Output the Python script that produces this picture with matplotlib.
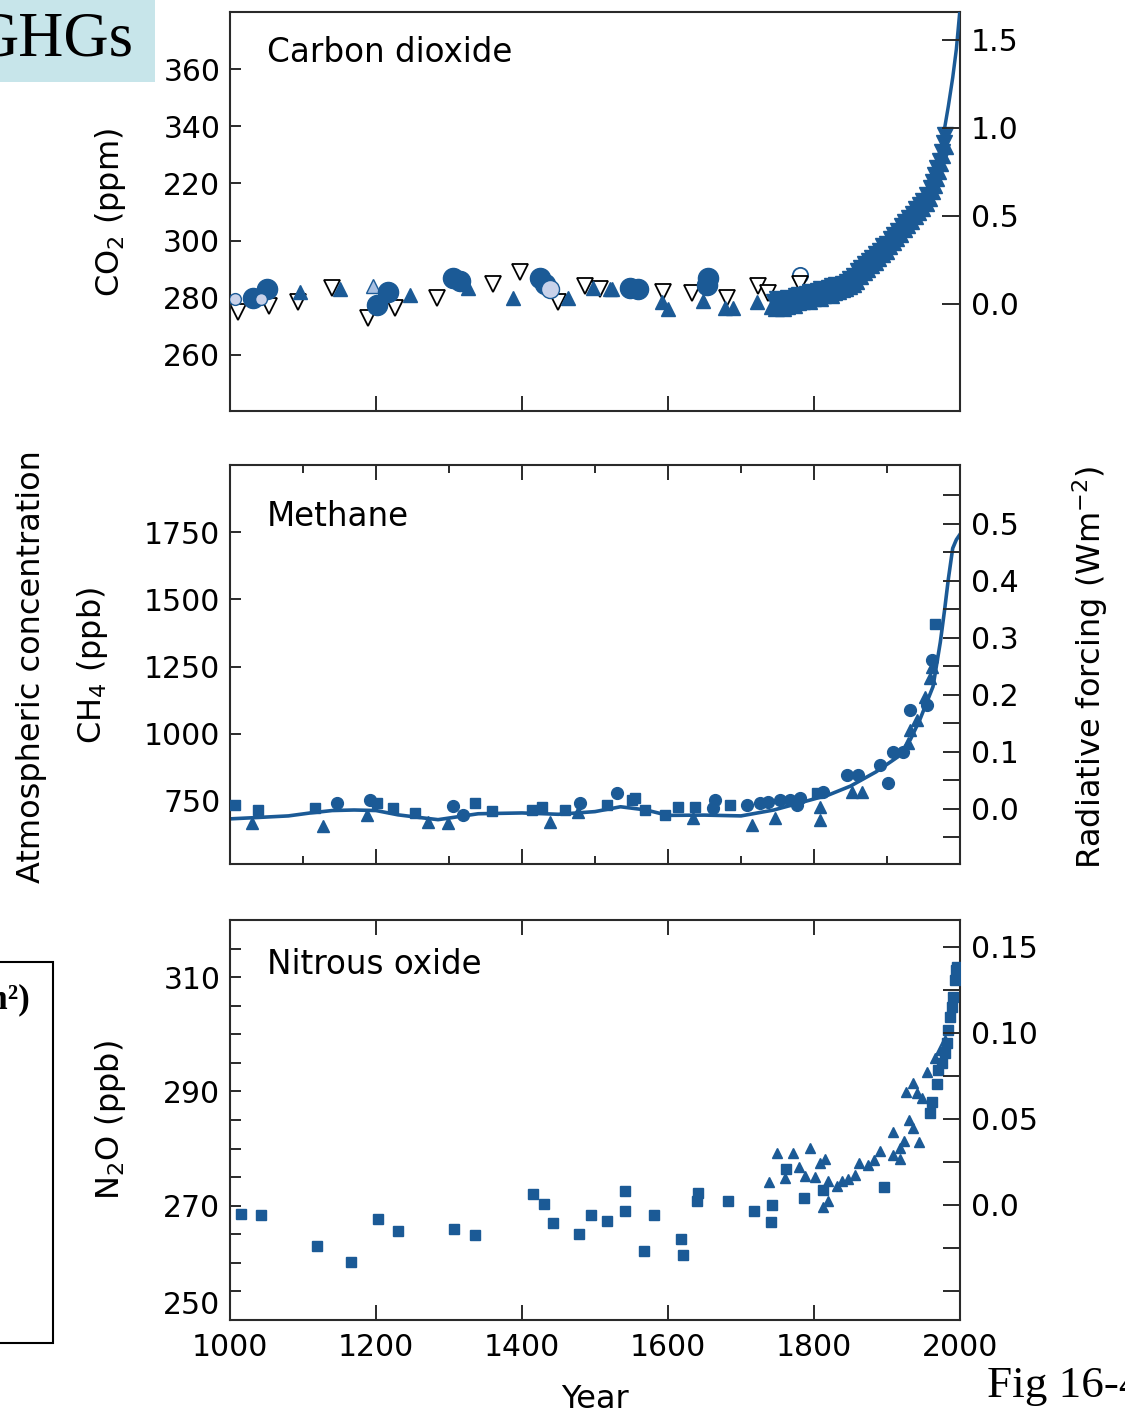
import matplotlib
matplotlib.use('Agg')
import matplotlib.pyplot as plt
from matplotlib.patches import Rectangle

BLUE = '#1b5a96'
LIGHT = '#c9d2ea'
LIGHTTRI = '#a9c0e2'
SPINE = '#2a2a2a'

# ---------------- CO2 (ppm) ----------------
co2_circle_year = [1032, 1051, 1201, 1216, 1306, 1315, 1425, 1432, 1548, 1559, 1653, 1655]
co2_circle_ppm = [280, 283, 277.5, 282, 287, 286, 287, 285, 283.5, 283, 284.5, 287]
co2_lightcircle_year = [1007, 1042]
co2_lightcircle_ppm = [279.7, 279.5]
co2_bigcircle_year = [1438]
co2_bigcircle_ppm = [283]
co2_opencircle_year = [1781]
co2_opencircle_ppm = [288]
co2_triup_year = [1096, 1151, 1247, 1326, 1388, 1463, 1497, 1521, 1523, 1592, 1600, 1648, 1678, 1689, 1722]
co2_triup_ppm = [282, 283, 281, 283.5, 280, 280, 283.5, 283, 283, 278.6, 276, 279, 276.5, 276.5, 278.6]
co2_lighttri_year = [1196]
co2_lighttri_ppm = [284]
co2_opentri_year = [1011, 1053, 1093, 1140, 1189, 1226, 1283, 1360, 1397, 1449, 1486, 1507,
                    1593, 1633, 1681, 1723, 1737, 1781]
co2_opentri_ppm = [275, 277, 278.5, 283.5, 273, 276.5, 280, 285, 289, 278.6, 284, 283,
                   282, 281.7, 280, 284, 281.7, 285]
co2_band_a_year = [1745, 1750, 1755, 1760, 1765, 1770, 1775, 1780, 1785, 1790, 1795, 1800, 1805,
                   1810, 1815, 1820, 1825, 1830, 1835, 1840, 1845, 1850, 1855, 1860, 1865, 1870,
                   1875, 1880, 1885, 1890, 1895, 1900, 1905, 1910, 1915, 1920, 1925, 1930, 1935,
                   1940, 1945, 1950, 1955, 1960, 1963, 1966, 1969, 1972, 1975, 1978, 1980]
co2_band_a_ppm = [278.5, 279.5, 278, 279, 280, 279.5, 280.5, 281, 280.5, 281.5, 282, 281.5, 282.5,
                  283, 282.5, 283.5, 284, 284.5, 284, 285, 285.5, 286.5, 287.5, 289.5, 290.5, 292,
                  293, 294, 295.5, 296.5, 298, 299, 300.5, 302, 303.5, 305, 306.5, 308, 309.5,
                  311, 312.5, 314, 316, 318.5, 320.5, 323, 325.5, 328, 331, 334, 337]
co2_band_b_year = [1742, 1748, 1753, 1758, 1763, 1768, 1773, 1778, 1783, 1788, 1793, 1798, 1803,
                   1808, 1813, 1818, 1823, 1828, 1833, 1838, 1843, 1848, 1853, 1858, 1863, 1868,
                   1873, 1878, 1883, 1888, 1893, 1898, 1903, 1908, 1913, 1918, 1923, 1928, 1933,
                   1938, 1943, 1948, 1953, 1958, 1961, 1964, 1967, 1970, 1973, 1976, 1979]
co2_band_b_ppm = [277, 276.5, 277.5, 276.5, 277, 278, 277.5, 278.5, 279, 279.5, 279, 280, 280.5,
                  280, 281, 281.5, 281, 282, 282.5, 283, 283.5, 284, 285, 286, 287.5, 289,
                  290, 291.5, 292.5, 294, 295.5, 296.5, 298, 299.5, 301, 302.5, 304, 305.5, 307,
                  308.5, 310, 311.5, 313, 315, 317.5, 319.5, 322, 324.5, 327, 330, 333]
co2_line_year = [1978, 1984, 1990, 1995, 2000]
co2_line_ppm = [338, 347, 357, 367, 381]

# ---------------- CH4 (ppb) ----------------
ch4_sq_year = [1007, 1038, 1116, 1201, 1223, 1253, 1336, 1359, 1414, 1427, 1459, 1516, 1551, 1555,
               1568, 1596, 1614, 1637, 1685, 1804, 1966]
ch4_sq_ppb = [735, 716, 724, 742, 724, 705, 742, 713, 716, 728, 716, 735, 754, 761,
              716, 698, 728, 728, 735, 780, 1407]
ch4_ci_year = [1146, 1192, 1306, 1319, 1479, 1530, 1662, 1664, 1708, 1726, 1737, 1753, 1767, 1777,
               1781, 1812, 1845, 1860, 1890, 1901, 1908, 1922, 1932, 1955, 1962]
ch4_ci_ppb = [742, 754, 731, 698, 742, 780, 724, 754, 735, 742, 746, 754, 754, 735,
              761, 784, 847, 847, 884, 817, 933, 933, 1090, 1108, 1276]
ch4_tr_year = [1030, 1127, 1188, 1271, 1299, 1438, 1477, 1634, 1715, 1747, 1808, 1808, 1852, 1866,
               1929, 1932, 1941, 1952, 1959, 1962]
ch4_tr_ppb = [668, 657, 698, 672, 668, 672, 709, 687, 660, 687, 728, 679, 784, 784,
              966, 1015, 1052, 1138, 1209, 1250]
ch4_line_year = [1000, 1030, 1080, 1110, 1140, 1170, 1200, 1230, 1260, 1285, 1310, 1340, 1400,
                 1450, 1500, 1535, 1570, 1600, 1650, 1700, 1745, 1780, 1820, 1850, 1885, 1915,
                 1932, 1945, 1963, 1973, 1979, 1984, 1990, 1995, 2000]
ch4_line_ppb = [683, 687, 694, 705, 714, 716, 714, 698, 688, 680, 690, 702, 705,
                700, 710, 728, 716, 696, 697, 694, 716, 742, 772, 805, 858, 914,
                978, 1052, 1175, 1340, 1463, 1575, 1690, 1722, 1742]

# ---------------- N2O (ppb) ----------------
n2o_sq_year = [1015, 1042, 1119, 1166, 1203, 1230, 1307, 1336, 1415, 1430, 1442, 1478, 1494, 1516,
               1541, 1541, 1567, 1581, 1618, 1621, 1640, 1641, 1682, 1718, 1743, 1741, 1762, 1786,
               1812, 1896, 1959, 1962, 1968, 1970, 1975, 1979, 1982, 1984, 1986, 1989, 1990, 1993,
               1995, 1996]
n2o_sq_ppb = [268.6, 268.4, 263.0, 260.2, 267.6, 265.5, 266.0, 264.9, 272.1, 270.3, 267.0, 265.1,
              268.3, 267.4, 272.5, 269.0, 262.1, 268.4, 264.2, 261.4, 270.9, 272.3, 270.9, 269.1,
              270.2, 267.2, 276.5, 271.4, 272.8, 273.3, 286.2, 288.2, 291.3, 293.8, 295.0, 296.7,
              298.5, 300.7, 303.0, 304.8, 306.5, 309.5, 311.2, 311.7]
n2o_tr_year = [1738, 1750, 1760, 1771, 1779, 1788, 1795, 1801, 1808, 1815, 1812, 1819, 1819, 1831,
               1838, 1847, 1856, 1861, 1874, 1882, 1890, 1908, 1908, 1918, 1918, 1923, 1930, 1936,
               1944, 1926, 1936, 1941, 1948, 1955, 1966, 1973, 1979]
n2o_tr_ppb = [274.2, 279.3, 274.9, 279.3, 276.8, 275.2, 280.1, 275.1, 277.5, 278.2, 269.8, 270.9,
              274.4, 273.5, 274.4, 274.7, 275.4, 277.5, 277.2, 278.0, 279.6, 282.9, 278.9, 278.2,
              280.1, 281.4, 285.0, 283.6, 281.2, 289.9, 291.5, 289.7, 288.9, 293.4, 295.9, 297.2,
              299.0]

W, H = 1125, 1416
fig = plt.figure(figsize=(W / 100, H / 100), dpi=100)


def fx(x):
    return x / W


def fy(y):
    return 1 - y / H


def make_axes(top, bottom):
    ax = fig.add_axes([fx(230), fy(bottom), (960 - 230) / W, (bottom - top) / H])
    for s in ax.spines.values():
        s.set_color(SPINE)
        s.set_linewidth(1.5)
    ax.set_xlim(1000, 2000)
    return ax


TICK_FS = 21.5
LAB_FS = 23

# ---------- top panel ----------
ax1 = make_axes(12, 411)
ax1.set_ylim(240.4, 380)
ax1.set_yticks([260, 280, 300, 320, 340, 360], labels=['260', '280', '300', '220', '340', '360'])
ax1.set_xticks([1200, 1400, 1600, 1800], labels=[])
ax1.tick_params(axis='y', direction='in', length=8, width=1.4, labelsize=TICK_FS, pad=7, color=SPINE)
ax1.tick_params(axis='x', direction='in', length=11, width=1.4, color=SPINE)

ax1.plot(co2_band_b_year, co2_band_b_ppm, linestyle='none', marker='^', ms=11, color=BLUE, zorder=3)
ax1.plot(co2_band_a_year, co2_band_a_ppm, linestyle='none', marker='v', ms=11, color=BLUE, zorder=3)
ax1.plot(co2_line_year, co2_line_ppm, color=BLUE, lw=2.5, zorder=3)
ax1.plot(co2_opentri_year, co2_opentri_ppm, linestyle='none', marker='v', ms=11,
         mfc='white', mec='black', mew=1.3, zorder=2)
ax1.plot(co2_triup_year, co2_triup_ppm, linestyle='none', marker='^', ms=10, color=BLUE, zorder=3)
ax1.plot(co2_lighttri_year, co2_lighttri_ppm, linestyle='none', marker='^', ms=10,
         mfc=LIGHTTRI, mec=BLUE, mew=1, zorder=3)
ax1.plot(co2_circle_year, co2_circle_ppm, linestyle='none', marker='o', ms=14.5, color=BLUE, zorder=4)
ax1.plot(co2_lightcircle_year, co2_lightcircle_ppm, linestyle='none', marker='o', ms=8.5,
         mfc=LIGHT, mec=BLUE, mew=1, zorder=5)
ax1.plot(co2_bigcircle_year, co2_bigcircle_ppm, linestyle='none', marker='o', ms=13,
         mfc=LIGHT, mec=BLUE, mew=1, zorder=5)
ax1.plot(co2_opencircle_year, co2_opencircle_ppm, linestyle='none', marker='o', ms=11,
         mfc='white', mec=BLUE, mew=1.3, zorder=1)

r1 = ax1.twinx()
r1.set_ylim(-0.608, 1.659)
r1.set_yticks([0, 0.5, 1.0, 1.5], labels=['0.0', '0.5', '1.0', '1.5'])
r1.tick_params(axis='y', direction='in', length=13, width=1.4, labelsize=TICK_FS, pad=8, color=SPINE)
for s in r1.spines.values():
    s.set_visible(False)

# ---------- middle panel ----------
ax2 = make_axes(465, 864)
ax2.set_ylim(515, 2000)
ax2.set_yticks([750, 1000, 1250, 1500, 1750])
ax2.set_xticks([1200, 1400, 1600, 1800], labels=[])
ax2.set_xticks([1100, 1300, 1500, 1700, 1900], minor=True)
ax2.tick_params(axis='y', direction='in', length=8, width=1.4, labelsize=TICK_FS, pad=7, color=SPINE)
ax2.tick_params(axis='x', which='major', direction='in', length=11, width=1.4, top=True, color=SPINE)
ax2.tick_params(axis='x', which='minor', direction='in', length=6, width=1.4, top=True, color=SPINE)

ax2.plot(ch4_line_year, ch4_line_ppb, color=BLUE, lw=2.6, zorder=2)
ax2.plot(ch4_sq_year, ch4_sq_ppb, linestyle='none', marker='s', ms=7.5, color=BLUE, zorder=3)
ax2.plot(ch4_ci_year, ch4_ci_ppb, linestyle='none', marker='o', ms=8.5, color=BLUE, zorder=3)
ax2.plot(ch4_tr_year, ch4_tr_ppb, linestyle='none', marker='^', ms=8.5, color=BLUE, zorder=3)

r2 = ax2.twinx()
r2.set_ylim(-0.0965, 0.6035)
r2.set_yticks([0, 0.1, 0.2, 0.3, 0.4, 0.5], labels=['0.0', '0.1', '0.2', '0.3', '0.4', '0.5'])
r2.set_yticks([-0.05, 0.05, 0.15, 0.25, 0.35, 0.45, 0.55], minor=True)
r2.tick_params(axis='y', which='both', direction='in', length=12, width=1.4, labelsize=TICK_FS,
               pad=8, color=SPINE)
for s in r2.spines.values():
    s.set_visible(False)

# ---------- bottom panel ----------
ax3 = make_axes(920, 1320)
ax3.set_ylim(250, 320)
ax3.set_yticks([250, 270, 290, 310])
ax3.set_yticks([255, 260, 265, 275, 280, 285, 295, 300, 305, 315], minor=True)
ax3.set_xticks([1000, 1200, 1400, 1600, 1800, 2000])
ax3.tick_params(axis='y', which='both', direction='in', length=8, width=1.4, labelsize=TICK_FS,
                pad=7, color=SPINE)
ax3.tick_params(axis='x', direction='in', length=11, width=1.4, labelsize=TICK_FS, pad=9,
                top=True, color=SPINE)
ax3.yaxis.get_major_ticks()[0].label1.set_verticalalignment('bottom')

ax3.plot(n2o_tr_year, n2o_tr_ppb, linestyle='none', marker='^', ms=7.5, color=BLUE, zorder=3)
ax3.plot(n2o_sq_year, n2o_sq_ppb, linestyle='none', marker='s', ms=7, color=BLUE, zorder=3)

r3 = ax3.twinx()
r3.set_ylim(-0.0669, 0.1657)
r3.set_yticks([0, 0.05, 0.10, 0.15], labels=['0.0', '0.05', '0.10', '0.15'])
r3.set_yticks([-0.05, -0.025, 0.025, 0.075, 0.125], minor=True)
r3.tick_params(axis='y', which='both', direction='in', length=12, width=1.4, labelsize=TICK_FS,
               pad=8, color=SPINE)
for s in r3.spines.values():
    s.set_visible(False)

# ---------- texts ----------
fig.text(fx(267), fy(53), 'Carbon dioxide', fontsize=23.5, va='center', ha='left')
fig.text(fx(267), fy(517), 'Methane', fontsize=23.5, va='center', ha='left')
fig.text(fx(267), fy(965), 'Nitrous oxide', fontsize=23.5, va='center', ha='left')
fig.text(fx(110), fy(212), 'CO$_2$ (ppm)', fontsize=LAB_FS, rotation=90, ha='center', va='center')
fig.text(fx(32), fy(667), 'Atmospheric concentration', fontsize=LAB_FS, rotation=90,
         ha='center', va='center')
fig.text(fx(92), fy(665), 'CH$_4$ (ppb)', fontsize=LAB_FS, rotation=90, ha='center', va='center')
fig.text(fx(110), fy(1120), 'N$_2$O (ppb)', fontsize=LAB_FS, rotation=90, ha='center', va='center')
fig.text(fx(1090), fy(667), 'Radiative forcing (Wm$^{-2}$)', fontsize=LAB_FS, rotation=90,
         ha='center', va='center')
fig.text(fx(595), fy(1400), 'Year', fontsize=LAB_FS, ha='center', va='center')

# GHGs header box
fig.patches.append(Rectangle((0, fy(82)), fx(155), 82 / H, transform=fig.transFigure,
                             facecolor='#c7e5ea', edgecolor='none', zorder=0))
fig.text(fx(133), fy(55), 'GHGs', fontsize=45, family='Liberation Serif', ha='right',
         va='baseline')

# left box
fig.patches.append(Rectangle((fx(-10), fy(1343)), fx(63), (1343 - 962) / H,
                             transform=fig.transFigure, facecolor='none', edgecolor='black',
                             linewidth=1.5, zorder=1))
fig.text(fx(30), fy(1000), '(W/m²)', fontsize=25, family='Liberation Serif', weight='bold',
         ha='right', va='center')

fig.text(fx(987), fy(1397), 'Fig 16-4', fontsize=32.5, family='Liberation Serif', ha='left',
         va='baseline')

fig.savefig('out.png', dpi=100)
